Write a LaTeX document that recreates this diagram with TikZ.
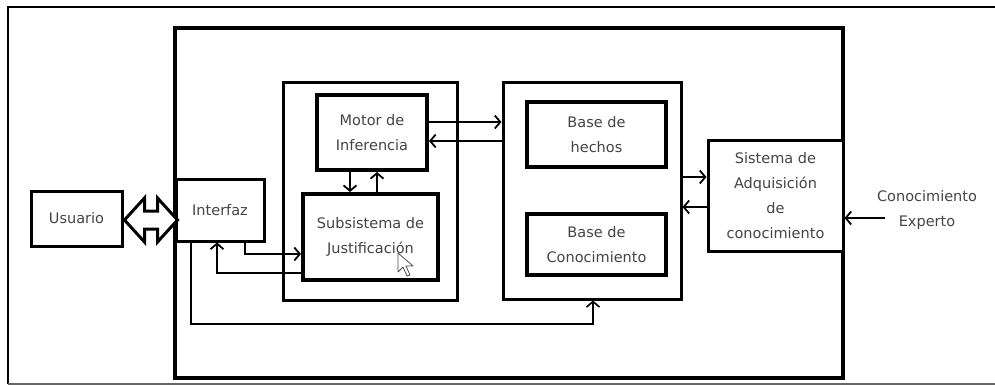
\documentclass[tikz,border=0pt]{standalone}
\usepackage{fontspec}
\setmainfont{DejaVu Sans}
\usetikzlibrary{arrows.meta,calc}
\definecolor{txt}{HTML}{444444}
\tikzset{
  box/.style={draw=black, fill=white, rectangle, inner sep=0pt, align=center, text=txt,
    font=\fontsize{14.5}{25}\selectfont},
  conn/.style={draw=black, line width=1.8pt, -{Straight Barb[length=5.5pt,width=13pt,line width=1.8pt]}},
  thinconn/.style={draw=black, line width=1.3pt, -{Straight Barb[length=5.5pt,width=13pt,line width=1.6pt]}},
  lbl/.style={align=center, text=txt, font=\fontsize{14.5}{25}\selectfont, inner sep=0pt}
}
\begin{document}
\begin{tikzpicture}[x=1pt,y=-1pt]
\useasboundingbox (0,0) rectangle (995,385);
% outer frame
\draw[line width=1.5pt] (995,7) -- (8,7) -- (8,384);
\draw[line width=1.5pt, gray!80!black] (8,384) -- (995,384);
% main box
\node[box, line width=3.5pt, minimum width=668pt, minimum height=350pt] (main) at (509,203) {};
% groups
\node[box, line width=3pt, minimum width=174pt, minimum height=217pt] (grp1) at (370,191.5) {};
\node[box, line width=3pt, minimum width=178pt, minimum height=216pt] (grp2) at (592,191) {};
% nodes
\node[box, line width=3pt, minimum width=91pt, minimum height=55pt] (usr) at (76.5,218.5) {Usuario};
\node[box, line width=3pt, minimum width=88pt, minimum height=62pt] (intf) at (220,210) {Interfaz};
\node[box, line width=4pt, minimum width=110pt, minimum height=75pt] (motor) at (372,132.5) {Motor de\\Inferencia};
\node[box, line width=4pt, minimum width=135pt, minimum height=86pt] (subs) at (370.5,237) {Subsistema de\\Justificación};
\node[box, line width=3.5pt, minimum width=139pt, minimum height=65pt] (hechos) at (596.5,134.5) {Base de\\hechos};
\node[box, line width=3.5pt, minimum width=139pt, minimum height=61pt] (conoc) at (596.5,244.5) {Base de\\Conocimiento};
\node[box, line width=3pt, minimum width=135pt, minimum height=111pt] (sist) at (775.5,195.5) {Sistema de\\Adquisición\\de\\conocimiento};
\node[lbl] (exp) at (927,209.5) {Conocimiento\\Experto};
\coordinate (expstart) at (885,218);
% double arrow between Usuario and Interfaz
\draw[line width=3pt, fill=white, line join=miter]
  ($(usr.east)+(1,1.5)$) coordinate (dl)
  -- ($(dl)+(20,-22)$) -- ($(dl)+(20,-9)$) -- ($(dl)+(33,-9)$) -- ($(dl)+(33,-22)$)
  -- ($(dl)+(53,0)$)
  -- ($(dl)+(33,22)$) -- ($(dl)+(33,9)$) -- ($(dl)+(20,9)$) -- ($(dl)+(20,22)$) -- cycle;
% motor <-> base group
\draw[conn] ([yshift=10.5pt]motor.east) -- ([yshift=10.5pt]motor.east -| grp2.west);
\draw[conn] ([yshift=-8.5pt]motor.east -| grp2.west) -- ([yshift=-8.5pt]motor.east);
% motor <-> subsistema
\draw[conn] ([xshift=-22pt]motor.south) -- ([xshift=-22pt]motor.south |- subs.north);
\draw[conn] ([xshift=5pt]motor.south |- subs.north) -- ([xshift=5pt]motor.south);
% interfaz <-> subsistema
\draw[conn] ([xshift=25pt]intf.south) |- ([yshift=-17pt]subs.west);
\draw[conn] ([yshift=-36pt]subs.west) -| ([xshift=-3pt]intf.south);
% base group <-> sistema
\draw[conn] ([yshift=18.5pt]sist.west -| grp2.east) -- ([yshift=18.5pt]sist.west);
\draw[conn] ([yshift=-11.5pt]sist.west) -- ([yshift=-11.5pt]sist.west -| grp2.east);
% expert -> sistema
\draw[conn] (expstart) -- (expstart -| sist.east);
% interfaz -> base group (bottom)
\coordinate (bl) at (593,324);
\draw[thinconn] ([xshift=-29pt]intf.south) |- (bl) -- (bl |- grp2.south);
% mouse cursor
\draw[line width=0.8pt, fill=white, draw=black!70, line join=round]
  (398,253) -- (398,272) -- (403,267) -- (407,276) -- (410,275) -- (406,266) -- (413,266) -- cycle;
\end{tikzpicture}
\end{document}
